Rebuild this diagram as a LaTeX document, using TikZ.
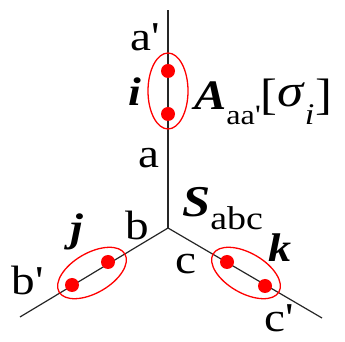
\documentclass[tikz,border=0pt]{standalone}
\usepackage{fontspec}
\setmainfont{Liberation Serif}
\usetikzlibrary{shapes.geometric}
\begin{document}
\begin{tikzpicture}[x=1pt,y=1pt,
  leg/.style={line width=1.2pt, black!85},
  ring/.style={draw=red, line width=1.3pt, ellipse, minimum width=76pt, minimum height=40pt, inner sep=0pt},
  spot/.style={circle, fill=red, minimum size=14pt, inner sep=0pt},
  txt/.style={inner sep=0pt, transform shape, xscale=1.15},
  lbl/.style={txt, font=\fontsize{41}{41}\selectfont},
  bi/.style={txt, font=\fontsize{40}{40}\selectfont\bfseries\itshape}]
\useasboundingbox (0,0) rectangle (345,342);
% junction and branch ends
\coordinate (O) at (168,114);
\coordinate (Ta) at (168,332);
\coordinate (Tb) at (20,25);
\coordinate (Tc) at (322,24);
\draw[leg] (O) -- (Ta);
\draw[leg] (O) -- (Tb);
\draw[leg] (O) -- (Tc);
% ellipses
\node[ring, rotate=90] (Ei) at (168,251) {};
\node[ring, rotate=30] (Ej) at (92,69) {};
\node[ring, rotate=-30] (Ek) at (246,69) {};
% dots
\node[spot] (i1) at (168,271) {};
\node[spot] (i2) at (168,228) {};
\node[spot] (j1) at (108,80) {};
\node[spot] (j2) at (72,57) {};
\node[spot] (k1) at (227,80) {};
\node[spot] (k2) at (265,56) {};
% labels
\node[lbl] (la') at (145,305) {a\textquotesingle};
\node[lbl] (la) at (149,184) {a};
\node[lbl] (lb) at (137.5,117) {b};
\node[lbl] (lb') at (28,62) {b\textquotesingle};
\node[lbl] (lc) at (186,78) {c};
\node[lbl, anchor=base] (lc') at (279,10) {c\textquotesingle};
\node[bi] (li) at (135,250) {i};
\node[bi] (lj) at (77,110) {j};
\node[bi] (lk) at (280,94) {k};
\node[lbl, anchor=base west] (lS) at (182,125) {{\fontsize{44}{44}\selectfont\bfseries\itshape S}\raisebox{-13pt}{\fontsize{33}{33}\selectfont abc}};
\node[lbl, anchor=base west] (lA) at (194,232) {{\fontsize{42}{42}\selectfont\bfseries\itshape A}\raisebox{-15pt}{\fontsize{28}{28}\selectfont aa\textquotesingle}{\fontsize{44}{44}\selectfont[\raisebox{3pt}{\fontsize{46}{46}\selectfont\itshape σ}\kern1pt\raisebox{-15pt}{\fontsize{30}{30}\selectfont\itshape i}\kern1pt]}};
\end{tikzpicture}
\end{document}
